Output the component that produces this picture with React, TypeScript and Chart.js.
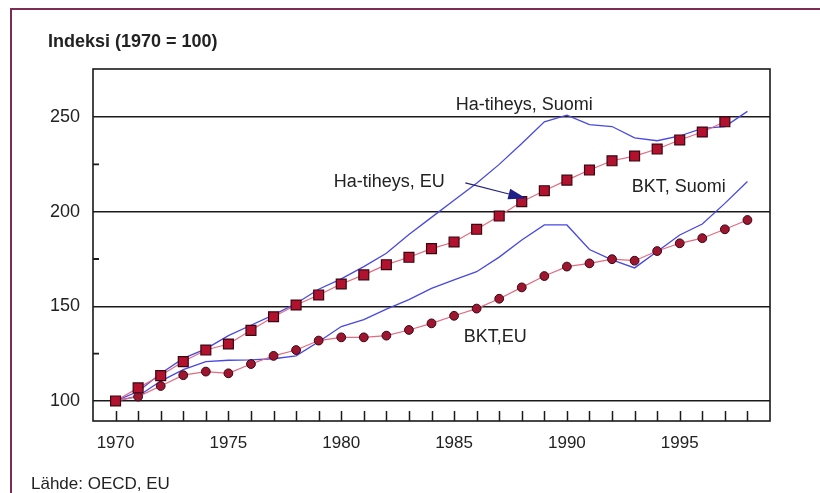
import React, { useEffect, useRef } from "react";
import { Chart, registerables } from "chart.js";

Chart.register(...registerables);

// ---------- data ----------
const years = [
  1970, 1971, 1972, 1973, 1974, 1975, 1976, 1977, 1978, 1979,
  1980, 1981, 1982, 1983, 1984, 1985, 1986, 1987, 1988, 1989,
  1990, 1991, 1992, 1993, 1994, 1995, 1996, 1997, 1998,
];
const haSuomi = [
  100, 105, 114.5, 122.5, 127.5, 134.5, 140, 145.5, 151.5, 159,
  164.5, 171, 178, 188, 197, 206, 215, 225, 236, 247.5,
  251, 246, 245, 239, 237.5, 240, 244, 245, 253,
];
const bktSuomi = [
  100, 102.5, 110.5, 116.5, 120.8, 121.5, 121.7, 122.3, 123.8, 131.3,
  139.3, 143, 148.5, 153.5, 159.5, 164, 168.3, 176, 185, 193,
  193, 180, 174.5, 170.3, 179, 187.7, 193.5, 204.4, 216,
];
const haEU = [
  100, 106.9, 113.4, 120.8, 126.9, 130.1, 137.3, 144.5, 150.7, 156,
  161.8, 166.6, 172, 175.9, 180.5, 184, 190.7, 197.7, 205.3, 211.1,
  216.7, 222, 226.9, 229.4, 233.1, 237.9, 242.1, 247.5,
];
const bktEU = [
  100, 102.3, 107.9, 113.6, 115.5, 114.6, 119.5, 123.8, 126.9, 131.9,
  133.6, 133.6, 134.5, 137.5, 141, 145, 148.8, 154, 160, 166,
  171, 172.7, 174.9, 174.1, 179.2, 183.3, 186, 190.7, 195.6,
];
const xTickLabels = [1970, 1975, 1980, 1985, 1990, 1995];
const yTickLabels = [100, 150, 200, 250];
const yMinorTicks = [125, 175, 225];

const titleText = "Indeksi (1970 = 100)";
const sourceText = "Lähde: OECD, EU";

// annotation placement in data coordinates (year, index)
const labelNotes = [
  { text: "Ha-tiheys, Suomi", x: 1985.07, y: 253.7 },
  { text: "Ha-tiheys, EU", x: 1979.67, y: 213.0 },
  { text: "BKT, Suomi", x: 1992.87, y: 210.4 },
  { text: "BKT,EU", x: 1985.43, y: 131.2 },
];
const arrowNote = { from: { x: 1985.5, y: 215.2 }, to: { x: 1988.2, y: 207.0 } };

const FONT = "'Liberation Sans', Arial, Helvetica, sans-serif";

const decorPlugin = {
  id: "decor",
  beforeDraw(chart: any) {
    const ctx = chart.ctx;
    ctx.save();
    ctx.fillStyle = "#ffffff";
    ctx.fillRect(0, 0, chart.width, chart.height);
    ctx.strokeStyle = "#7d2d55";
    ctx.lineWidth = 2;
    ctx.beginPath();
    ctx.moveTo(11, chart.height + 5);
    ctx.lineTo(11, 9);
    ctx.lineTo(chart.width + 5, 9);
    ctx.stroke();
    ctx.restore();
  },
  afterDraw(chart: any) {
    const ctx = chart.ctx;
    const area = chart.chartArea;
    const xs = chart.scales.x;
    const ys = chart.scales.y;
    ctx.save();
    // plot frame
    ctx.strokeStyle = "#1a1a1a";
    ctx.lineWidth = 1.6;
    ctx.strokeRect(area.left, area.top, area.right - area.left, area.bottom - area.top);
    // x tick marks (every year)
    ctx.lineWidth = 1.5;
    ctx.beginPath();
    years.forEach((yr) => {
      const px = Math.round(xs.getPixelForValue(yr)) + 0.5;
      ctx.moveTo(px, area.bottom);
      ctx.lineTo(px, area.bottom - 10);
    });
    ctx.stroke();
    // y minor ticks
    ctx.lineWidth = 1.8;
    ctx.beginPath();
    yMinorTicks.forEach((v) => {
      const py = ys.getPixelForValue(v);
      ctx.moveTo(area.left, py);
      ctx.lineTo(area.left + 6, py);
    });
    ctx.stroke();
    // title & source
    ctx.fillStyle = "#222222";
    ctx.textBaseline = "alphabetic";
    ctx.textAlign = "left";
    ctx.font = `bold 18px ${FONT}`;
    ctx.fillText(titleText, 48, 47);
    ctx.font = `17px ${FONT}`;
    ctx.fillText(sourceText, 31, 489);
    // series labels
    ctx.font = `18px ${FONT}`;
    labelNotes.forEach((n) => {
      ctx.fillText(n.text, xs.getPixelForValue(n.x), ys.getPixelForValue(n.y));
    });
    // arrow
    const x1 = xs.getPixelForValue(arrowNote.from.x);
    const y1 = ys.getPixelForValue(arrowNote.from.y);
    const x2 = xs.getPixelForValue(arrowNote.to.x);
    const y2 = ys.getPixelForValue(arrowNote.to.y);
    const ang = Math.atan2(y2 - y1, x2 - x1);
    const headLen = 18;
    const headHalf = 5.5;
    const bx = x2 - headLen * Math.cos(ang);
    const by = y2 - headLen * Math.sin(ang);
    ctx.strokeStyle = "#23237a";
    ctx.lineWidth = 1.2;
    ctx.beginPath();
    ctx.moveTo(x1, y1);
    ctx.lineTo(bx, by);
    ctx.stroke();
    ctx.fillStyle = "#1f1f8a";
    ctx.beginPath();
    ctx.moveTo(x2, y2);
    ctx.lineTo(bx + headHalf * Math.sin(ang), by - headHalf * Math.cos(ang));
    ctx.lineTo(bx - headHalf * Math.sin(ang), by + headHalf * Math.cos(ang));
    ctx.closePath();
    ctx.fill();
    ctx.restore();
  },
};

export default function App() {
  const canvasRef = useRef<HTMLCanvasElement | null>(null);

  useEffect(() => {
    if (!canvasRef.current) return;
    const toPts = (vals: number[]) => vals.map((v, i) => ({ x: years[i], y: v }));
    const chart = new Chart(canvasRef.current, {
      type: "line",
      data: {
        datasets: [
          {
            label: "Ha-tiheys, Suomi",
            data: toPts(haSuomi),
            borderColor: "#4848e2",
            borderWidth: 1.3,
            pointRadius: 0,
            tension: 0,
            order: 2,
          },
          {
            label: "BKT, Suomi",
            data: toPts(bktSuomi),
            borderColor: "#4848e2",
            borderWidth: 1.3,
            pointRadius: 0,
            tension: 0,
            order: 2,
          },
          {
            label: "Ha-tiheys, EU",
            data: toPts(haEU),
            borderColor: "#e46a80",
            borderWidth: 1.2,
            pointStyle: "rect",
            pointRadius: 7,
            pointBackgroundColor: "#b3122e",
            pointBorderColor: "#3a0612",
            pointBorderWidth: 1.2,
            tension: 0,
            order: 1,
          },
          {
            label: "BKT, EU",
            data: toPts(bktEU),
            borderColor: "#e46a80",
            borderWidth: 1.2,
            pointStyle: "circle",
            pointRadius: 4.4,
            pointBackgroundColor: "#9e1530",
            pointBorderColor: "#3a0612",
            pointBorderWidth: 1,
            tension: 0,
            order: 1,
          },
        ],
      },
      options: {
        animation: false,
        responsive: false,
        maintainAspectRatio: false,
        layout: { padding: { left: 0, top: 69, right: 50, bottom: 0 } },
        plugins: {
          legend: { display: false },
          tooltip: { enabled: false },
          title: { display: false },
        },
        scales: {
          x: {
            type: "linear",
            min: 1969,
            max: 1999,
            afterBuildTicks: (s: any) => {
              s.ticks = xTickLabels.map((v) => ({ value: v }));
            },
            afterFit: (s: any) => {
              s.height = 72;
            },
            grid: { display: false, drawTicks: false },
            border: { display: false },
            ticks: {
              autoSkip: false,
              maxRotation: 0,
              padding: 12,
              color: "#222222",
              font: { family: FONT, size: 17 },
              callback: (v: any) => String(v),
            },
          },
          y: {
            type: "linear",
            min: 89.4,
            max: 275.4,
            afterBuildTicks: (s: any) => {
              s.ticks = yTickLabels.map((v) => ({ value: v }));
            },
            afterFit: (s: any) => {
              s.width = 93;
            },
            grid: { color: "#1a1a1a", lineWidth: 1.6, drawTicks: false },
            border: { display: false },
            ticks: {
              padding: 13,
              color: "#222222",
              font: { family: FONT, size: 18 },
              callback: (v: any) => String(v),
            },
          },
        },
      },
      plugins: [decorPlugin],
    });
    return () => chart.destroy();
  }, []);

  return (
    <div
      style={{
        position: "fixed",
        left: 0,
        top: 0,
        width: 820,
        height: 493,
        background: "#ffffff",
      }}
    >
      <canvas ref={canvasRef} width={820} height={493} style={{ display: "block" }} />
    </div>
  );
}
